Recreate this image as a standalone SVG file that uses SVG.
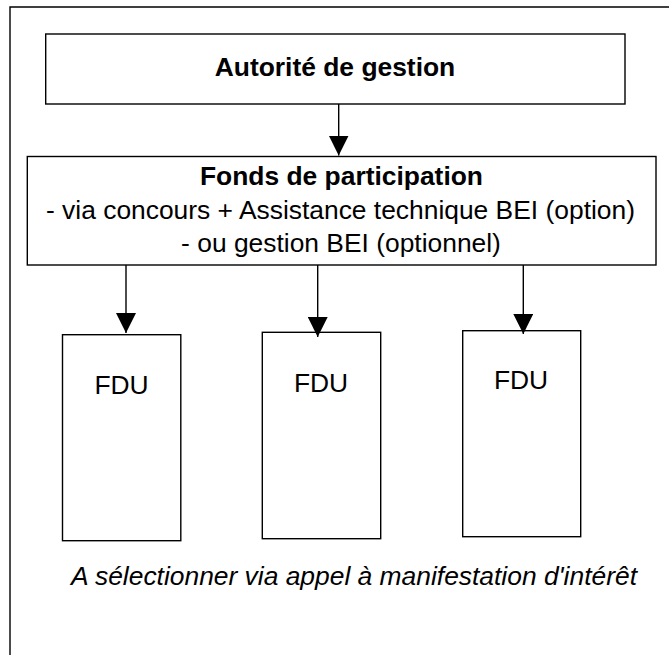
<svg xmlns="http://www.w3.org/2000/svg" width="669" height="655" viewBox="0 0 669 655">
<defs>
<style>
.box{fill:#fff;stroke:#000;stroke-width:1.4}
.frame{fill:none;stroke:#000;stroke-width:1.4}
.conn{fill:none;stroke:#000;stroke-width:1.4}
text{font-family:"Liberation Sans",Arial,sans-serif;font-size:26.4px;fill:#000;text-anchor:middle}
.b{font-weight:bold}
.i{font-style:italic}
</style>
<marker id="ah" markerUnits="userSpaceOnUse" markerWidth="20" markerHeight="20" viewBox="0 0 20 20" refX="20" refY="10" orient="auto">
<path d="M0,0 L20,10 L0,20 z" fill="#000"/>
</marker>
</defs>
<rect width="669" height="655" fill="#fff"/>
<path class="frame" d="M10,660 V7 H672"/>
<g id="autorite">
<rect class="box" x="45.7" y="34" width="579.3" height="70"/>
<text class="b" x="335" y="76">Autorité de gestion</text>
</g>
<g id="fonds">
<rect class="box" x="27.3" y="156.5" width="628.7" height="108.5"/>
<text class="b" x="341.5" y="185">Fonds de participation</text>
<text x="340.5" y="218.5">- via concours + Assistance technique BEI (option)</text>
<text x="341" y="251.5">- ou gestion BEI (optionnel)</text>
</g>
<g id="fdu1">
<rect class="box" x="62.5" y="334.7" width="118.3" height="206"/>
<text x="121.5" y="394">FDU</text>
</g>
<g id="fdu2">
<rect class="box" x="262.3" y="332.3" width="118.4" height="206.4"/>
<text x="321" y="391.7">FDU</text>
</g>
<g id="fdu3">
<rect class="box" x="462.7" y="330.7" width="118" height="206"/>
<text x="521" y="389.3">FDU</text>
</g>
<g id="connectors">
<line class="conn" x1="338.7" y1="104" x2="338.7" y2="155.5" marker-end="url(#ah)"/>
<line class="conn" x1="126" y1="265" x2="126" y2="333" marker-end="url(#ah)"/>
<line class="conn" x1="317.7" y1="265" x2="317.7" y2="337" marker-end="url(#ah)"/>
<line class="conn" x1="523.3" y1="265" x2="523.3" y2="334" marker-end="url(#ah)"/>
</g>
<text class="i" x="354" y="585">A sélectionner via appel à manifestation d'intérêt</text>
</svg>
